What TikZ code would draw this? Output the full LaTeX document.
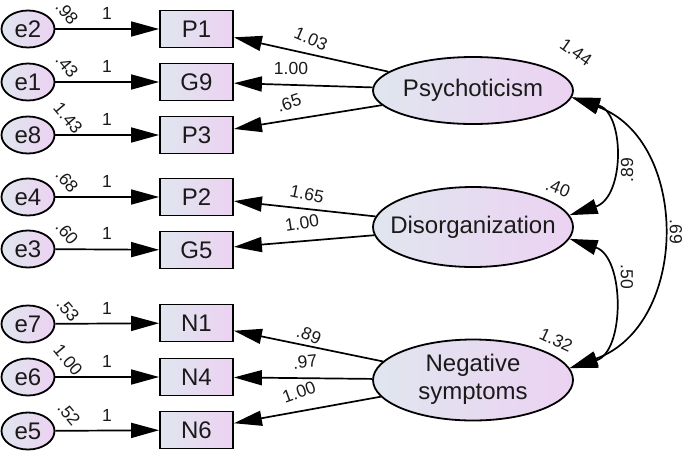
\documentclass[tikz,border=0pt]{standalone}
\usepackage{fontspec}
\setmainfont{Liberation Sans}
\usetikzlibrary{arrows.meta,shapes.geometric}
\definecolor{fillL}{HTML}{E0E6EF}
\definecolor{fillR}{HTML}{ECD2F2}
\definecolor{txt}{HTML}{1A1A1A}
\begin{document}
\begin{tikzpicture}[x=1pt,y=-1pt,
  grad/.style={left color=fillL,right color=fillR,draw=black,line width=1.8pt,text=txt},
  errnode/.style={grad,ellipse,minimum width=53pt,minimum height=37pt,inner sep=0pt,font=\fontsize{24}{28}\selectfont},
  obs/.style={grad,rectangle,minimum width=73pt,minimum height=37pt,inner sep=0pt,font=\fontsize{24}{28}\selectfont},
  lat/.style={grad,ellipse,minimum width=200pt,inner sep=0pt,font=\fontsize{24}{28}\selectfont},
  arr/.style={-{Triangle[length=28pt,width=15pt]},line width=1.7pt},
  darr/.style={{Triangle[length=28pt,width=15pt]}-{Triangle[length=28pt,width=15pt]},line width=1.7pt},
  lbl/.style={font=\fontsize{17.5}{20}\selectfont,text=txt,inner sep=0pt},
]
\useasboundingbox (0,0) rectangle (685,456);

% error terms
\node[errnode] (e2) at (28,29) {e2};
\node[errnode] (e1) at (28,82) {e1};
\node[errnode] (e8) at (28,135) {e8};
\node[errnode] (e4) at (28,197) {e4};
\node[errnode] (e3) at (28,249) {e3};
\node[errnode] (e7) at (28,324) {e7};
\node[errnode] (e6) at (28,377) {e6};
\node[errnode] (e5) at (28,431) {e5};

% observed
\node[obs] (P1) at (196.5,29) {P1};
\node[obs] (G9) at (196.5,82) {G9};
\node[obs] (P3) at (196.5,135) {P3};
\node[obs] (P2) at (196.5,197) {P2};
\node[obs] (G5) at (196.5,250) {G5};
\node[obs] (N1) at (196.5,323) {N1};
\node[obs] (N4) at (196.5,377) {N4};
\node[obs] (N6) at (196.5,430) {N6};

% latent
\node[lat,minimum height=67pt] (psy) at (473,90.5) {\makebox[0pt]{Psychoticism}};
\node[lat,minimum height=80pt] (dis) at (473,227) {\makebox[0pt]{Disorganization}};
\node[lat,minimum height=81pt] (neg) at (473,380) {\makebox[0pt]{\begin{tabular}{@{}c@{}}Negative\\symptoms\end{tabular}}};

% error paths
\foreach \e/\o in {e2/P1,e1/G9,e8/P3,e4/P2,e3/G5,e7/N1,e6/N4,e5/N6}
  \draw[arr] (\e) -- (\o);

% loadings
\draw[arr] (psy) -- (P1);
\draw[arr] (psy) -- (G9);
\draw[arr] (psy) -- (P3);
\draw[arr] (dis) -- (P2);
\draw[arr] (dis) -- (G5);
\draw[arr] (neg) -- (N1);
\draw[arr] (neg) -- (N4);
\draw[arr] (neg) -- (N6);

% covariances
\draw[darr] (psy.-4) .. controls (625,113) and (625,197) .. (dis.7);
\draw[darr] (dis.-7) .. controls (625,257) and (625,352) .. (neg.7);
\draw[darr] (psy.-4) .. controls (690,140) and (690,325) .. (neg.7);

% "1" labels
\foreach \n/\y in {a/13,b/66,c/119,d/181,e/233,f/308,g/361,h/415}
  \node[lbl] (one\n) at (107,\y) {1};

% error variances
\node[lbl,rotate=-50] (v2) at (67,13) {.98};
\node[lbl,rotate=-50] (v1) at (67,66) {.43};
\node[lbl,rotate=-50] (v8) at (68,118) {1.43};
\node[lbl,rotate=-50] (v4) at (67,181) {.68};
\node[lbl,rotate=-50] (v3) at (67,233) {.60};
\node[lbl,rotate=-50] (v7) at (68,310) {.53};
\node[lbl,rotate=-50] (v6) at (68,360) {1.00};
\node[lbl,rotate=-50] (v5) at (69,414) {.52};

% loading labels
\node[lbl,rotate=-23] (l1) at (311,39) {1.03};
\node[lbl] (l2) at (291,68) {1.00};
\node[lbl,rotate=19] (l3) at (289,103) {.65};
\node[lbl,rotate=-12] (l4) at (307,194) {1.65};
\node[lbl,rotate=9] (l5) at (302,223) {1.00};
\node[lbl,rotate=-22] (l6) at (309,335) {.89};
\node[lbl,rotate=6] (l7) at (305,362) {.97};
\node[lbl,rotate=20] (l8) at (299,392) {1.00};

% latent variances
\node[lbl,rotate=-35] (vp) at (576,52) {1.44};
\node[lbl,rotate=-22] (vd) at (558,188) {.40};
\node[lbl,rotate=-25] (vn) at (556,340) {1.32};

% covariance labels
\node[lbl,rotate=90] (c1) at (627,170) {.89};
\node[lbl,rotate=-90] (c2) at (627,277) {.50};
\node[lbl,rotate=-90] (c3) at (676,232) {.69};
\end{tikzpicture}
\end{document}
